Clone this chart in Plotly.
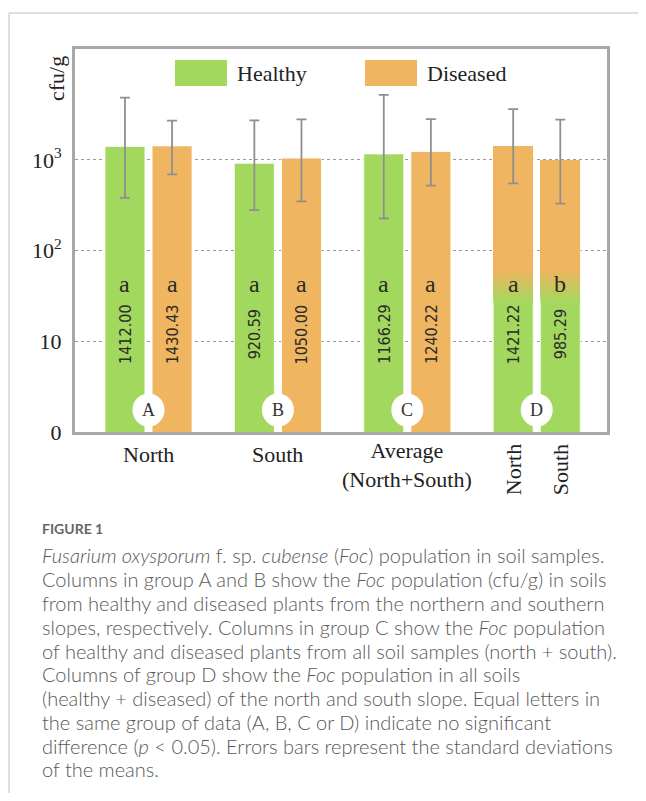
import plotly.graph_objects as go

# ---------------- data ----------------
group_ids = ["A", "B", "C", "D"]
group_labels = ["North", "South", "Average<br>(North+South)", ""]
slope_labels = ["North", "South"]          # rotated labels under group D
series_names = ["Healthy", "Diseased"]

bar_values = [1412.00, 1430.43, 920.59, 1050.00, 1166.29, 1240.22, 1421.22, 985.29]
sd_plus = [3450, 1290, 1820, 1750, 4050, 1580, 2220, 1800]
sd_minus = [1030, 735, 640, 700, 940, 720, 870, 655]
sig_letters = ["a", "a", "a", "a", "a", "a", "a", "b"]
bar_group = [0, 0, 1, 1, 2, 2, 3, 3]
bar_side = [0, 1, 0, 1, 0, 1, 0, 1]
bar_kind = ["Healthy", "Diseased", "Healthy", "Diseased", "Healthy", "Diseased", "Slope", "Slope"]

y_tickvals = [1, 10, 100, 1000]
y_ticktext = ["0", "10", "10<sup>2</sup>", "10<sup>3</sup>"]

caption_title = "FIGURE 1"
caption_lines = [
    "<i>Fusarium oxysporum</i> f. sp. <i>cubense</i> (<i>Foc</i>) population in soil samples.",
    "Columns in group A and B show the <i>Foc</i> population (cfu/g) in soils",
    "from healthy and diseased plants from the northern and southern",
    "slopes, respectively. Columns in group C show the <i>Foc</i> population",
    "of healthy and diseased plants from all soil samples (north + south).",
    "Columns of group D show the <i>Foc</i> population in all soils",
    "(healthy + diseased) of the north and south slope. Equal letters in",
    "the same group of data (A, B, C or D) indicate no significant",
    "difference (<i>p</i> &lt; 0.05). Errors bars represent the standard deviations",
    "of the means.",
]

# ---------------- style / layout ----------------
OFF_PAGE = 8                       # default body margin of the html page
W, H = 646 - 2 * OFF_PAGE, 801 - 2 * OFF_PAGE
# plot box in reference (window) pixels
BX0, BX1, BY0, BY1 = 75, 607, 49, 432
ML, MT = BX0 - OFF_PAGE, BY0 - OFF_PAGE
MR, MB = W - (BX1 - OFF_PAGE), H - (BY1 - OFF_PAGE)
PW, PH = BX1 - BX0, BY1 - BY0

GREEN = "#a3d85f"
ORANGE = "#efb560"
SERIF = "Liberation Serif, Times New Roman, serif"
CAP_FONT = "Lato, Open Sans, sans-serif"
TXT = "#222222"

def px_x(px):
    return (px - BX0) / PW

def px_y(py):
    return (BY1 - py) / PH

OFF, BW = 0.182, 0.309
x_pos = [g + (OFF if s else -OFF) for g, s in zip(bar_group, bar_side)]

def blend(c1, c2, t):
    a = [int(c1[i:i + 2], 16) for i in (1, 3, 5)]
    b = [int(c2[i:i + 2], 16) for i in (1, 3, 5)]
    return "rgb(%d,%d,%d)" % tuple(round(a[k] + (b[k] - a[k]) * t) for k in range(3))

fig = go.Figure()

green_idx = [i for i, k in enumerate(bar_kind) if k in ("Healthy", "Slope")]
orange_idx = [i for i, k in enumerate(bar_kind) if k == "Diseased"]
for idx, col, name in [(green_idx, GREEN, "Healthy"), (orange_idx, ORANGE, "Diseased")]:
    fig.add_trace(go.Bar(
        x=[x_pos[i] for i in idx], y=[bar_values[i] for i in idx], width=BW,
        marker=dict(color=col, line=dict(color="rgba(255,255,255,0.8)", width=1)),
        name=name, showlegend=False, hoverinfo="skip"))

# gradient (orange top -> green bottom) for group D
slope_idx = [i for i, k in enumerate(bar_kind) if k == "Slope"]
lo, hi, N = 26.5, 61.0, 14
for s in range(N + 1):
    base = lo * (hi / lo) ** (s / N)
    t = min(1.0, (s + 0.5) / N)
    fig.add_trace(go.Bar(
        x=[x_pos[i] for i in slope_idx],
        y=[bar_values[i] - base for i in slope_idx],
        base=[base] * len(slope_idx), width=BW - 0.005,
        marker=dict(color=blend(GREEN, ORANGE, t), line=dict(width=0)),
        showlegend=False, hoverinfo="skip"))

fig.add_trace(go.Scatter(
    x=x_pos, y=bar_values, mode="markers",
    marker=dict(size=1, color="rgba(0,0,0,0)"),
    error_y=dict(type="data", symmetric=False, array=sd_plus, arrayminus=sd_minus,
                 color="#8f8f8f", thickness=1.8, width=5),
    showlegend=False, hoverinfo="skip"))

ann = []
shapes = []

def A(**kw):
    kw.setdefault("showarrow", False)
    kw.setdefault("xanchor", "center")
    kw.setdefault("yanchor", "middle")
    ann.append(kw)

for i, v in enumerate(bar_values):
    A(x=x_pos[i], y=px_y(284), xref="x", yref="paper", text=sig_letters[i],
      font=dict(family=SERIF, size=24, color="#2a2a2a"))
    A(x=x_pos[i], y=px_y(334), xref="x", yref="paper", text=f"{v:.2f}", textangle=-90,
      font=dict(family="DejaVu Sans Condensed, DejaVu Sans Mono, monospace",
                size=16, color="#2b2b2b"))

for g, gid in enumerate(group_ids):
    shapes.append(dict(type="circle", xref="x", yref="paper", xsizemode="pixel",
                       ysizemode="pixel", xanchor=g, yanchor=px_y(410),
                       x0=-16, x1=16, y0=-16.5, y1=16.5,
                       fillcolor="white", line=dict(width=0), layer="above"))
    A(x=g, y=px_y(410), xref="x", yref="paper", text=gid,
      font=dict(family=SERIF, size=18, color="#333333"))

for g, lab in enumerate(group_labels):
    if lab:
        two = "<br>" in lab
        A(x=g, y=px_y(465 if two else 454), xref="x", yref="paper", text=lab,
          font=dict(family=SERIF, size=22, color=TXT))
for j, lab in enumerate(slope_labels):
    A(x=3 + (OFF if j else -OFF), y=px_y(470), xref="x", yref="paper", text=lab,
      textangle=-90, font=dict(family=SERIF, size=22, color=TXT))

A(x=px_x(57), y=px_y(79), xref="paper", yref="paper", text="cfu/g", textangle=-90,
  font=dict(family=SERIF, size=22, color=TXT))

for (x0, x1, tx), col, name in [((175, 227, 235), GREEN, series_names[0]),
                                 ((365, 417, 425), ORANGE, series_names[1])]:
    shapes.append(dict(type="rect", xref="paper", yref="paper",
                       x0=px_x(x0), x1=px_x(x1), y0=px_y(86), y1=px_y(60),
                       fillcolor=col, line=dict(width=0)))
    A(x=px_x(tx), y=px_y(73), xref="paper", yref="paper", text=name, xanchor="left",
      font=dict(family=SERIF, size=22, color=TXT))

# outer frame lines
shapes.append(dict(type="line", xref="paper", yref="paper", x0=px_x(9), x1=px_x(660),
                   y0=px_y(13), y1=px_y(13), line=dict(color="#d4d4d4", width=1.5)))
shapes.append(dict(type="line", xref="paper", yref="paper", x0=px_x(9), x1=px_x(9),
                   y0=px_y(13), y1=px_y(820), line=dict(color="#d4d4d4", width=1.5)))

A(x=px_x(40), y=px_y(528), xref="paper", yref="paper", text=caption_title,
  xanchor="left", font=dict(family=CAP_FONT, size=14, color="#666666", weight=700))
cap_y = [555, 579, 603, 627, 651, 674, 698, 722, 746, 769]
for line, yy in zip(caption_lines, cap_y):
    A(x=px_x(40), y=px_y(yy), xref="paper", yref="paper", text=line, xanchor="left",
      font=dict(family=CAP_FONT, size=20, color="#585858", weight=300))

fig.update_layout(
    width=W, height=H,
    margin=dict(l=ML, r=MR, t=MT, b=MB, pad=0),
    paper_bgcolor="white", plot_bgcolor="white",
    barmode="overlay", showlegend=False,
    annotations=ann, shapes=shapes,
    xaxis=dict(range=[-0.568, 3.543], showgrid=False, zeroline=False,
               showticklabels=False, ticks="", showline=True, mirror=True,
               linecolor="#a8a8a8", linewidth=3, fixedrange=True),
    yaxis=dict(type="log", range=[0, 4.224], tickvals=y_tickvals, ticktext=y_ticktext,
               showgrid=True, gridcolor="#9a9a9a", griddash="dot", gridwidth=1.2,
               zeroline=False, ticks="", showline=True, mirror=True,
               linecolor="#a8a8a8", linewidth=3, ticklabelstandoff=6,
               tickfont=dict(family=SERIF, size=22, color=TXT), fixedrange=True),
)

fig.write_html("out.html")
